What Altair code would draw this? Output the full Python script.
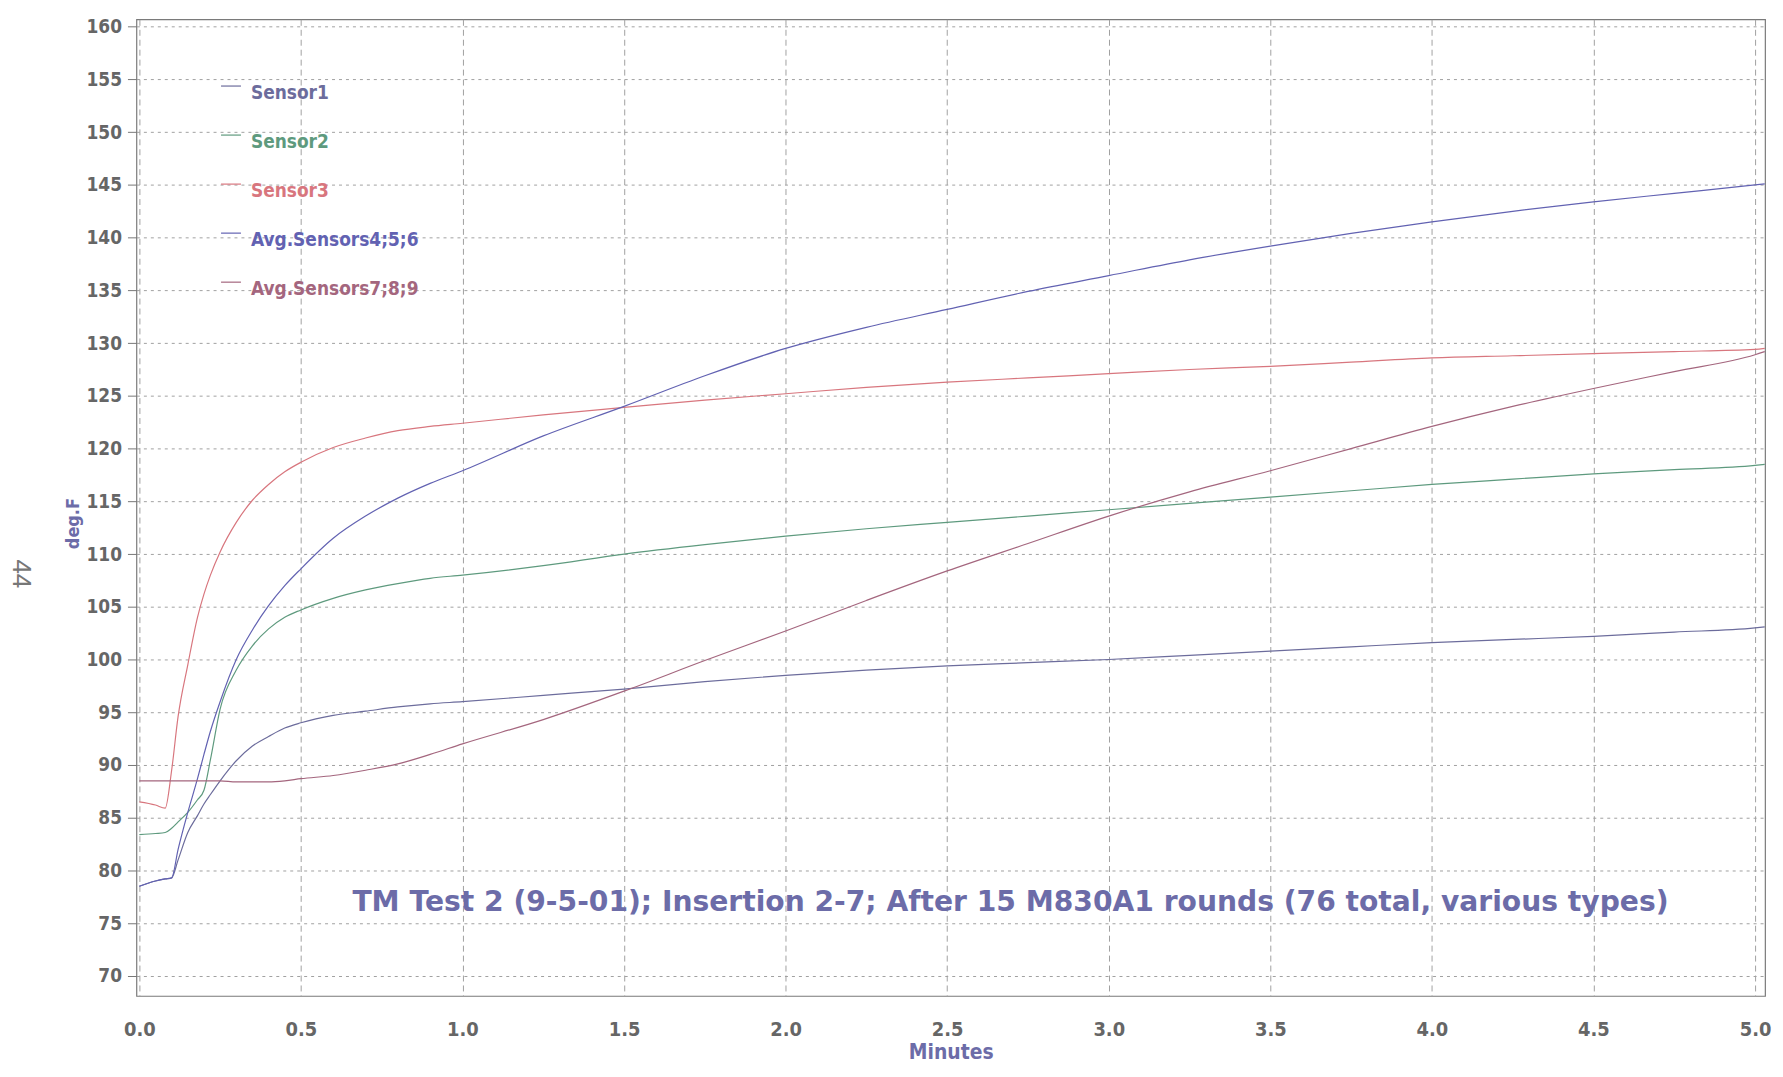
import altair as alt
import pandas as pd

minutes = [0, 0.05, 0.08, 0.1, 0.12, 0.15, 0.18, 0.2, 0.22, 0.25, 0.3, 0.35, 0.4, 0.45,
           0.5, 0.6, 0.7, 0.8, 0.9, 1.0, 1.25, 1.5, 1.75, 2.0, 2.25, 2.5, 2.75, 3.0,
           3.25, 3.5, 3.75, 4.0, 4.25, 4.5, 4.75, 5.0, 5.03]

sensor1 = [78.5, 79.0, 79.2, 79.3, 81.0, 83.6, 85.2, 86.3, 87.2, 88.5, 90.4, 91.8, 92.7, 93.5,
           94.0, 94.7, 95.1, 95.5, 95.8, 96.0, 96.6, 97.2, 97.9, 98.5, 99.0, 99.4, 99.7, 100.0,
           100.4, 100.8, 101.2, 101.6, 101.9, 102.2, 102.6, 103.0, 103.1]
sensor2 = [83.4, 83.5, 83.6, 84.0, 84.6, 85.5, 86.7, 87.6, 90.5, 95.3, 99.0, 101.3, 102.9, 104.0,
           104.7, 105.8, 106.6, 107.2, 107.7, 108.0, 108.9, 110.0, 110.9, 111.7, 112.4, 113.0, 113.6, 114.2,
           114.8, 115.4, 116.0, 116.6, 117.1, 117.6, 118.0, 118.4, 118.5]
sensor3 = [86.5, 86.2, 85.9, 89.5, 94.6, 99.5, 104.0, 106.2, 108.0, 110.2, 113.0, 115.1, 116.6, 117.8,
           118.7, 120.1, 121.0, 121.7, 122.1, 122.4, 123.2, 123.9, 124.6, 125.2, 125.8, 126.3, 126.7, 127.1,
           127.5, 127.8, 128.2, 128.6, 128.8, 129.0, 129.2, 129.4, 129.5]
avg456 = [78.5, 79.0, 79.2, 79.3, 82.0, 85.5, 88.7, 91.0, 93.2, 96.0, 100.0, 102.8, 105.1, 107.0,
          108.6, 111.5, 113.6, 115.3, 116.7, 117.9, 121.2, 124.0, 126.9, 129.5, 131.5, 133.2, 134.9, 136.4,
          137.9, 139.2, 140.4, 141.5, 142.5, 143.4, 144.2, 145.0, 145.1]
avg789 = [88.5, 88.5, 88.5, 88.5, 88.5, 88.5, 88.5, 88.5, 88.5, 88.5, 88.4, 88.4, 88.4, 88.5,
          88.7, 89.0, 89.5, 90.1, 91.0, 92.0, 94.3, 97.0, 99.9, 102.7, 105.6, 108.4, 111.0, 113.6,
          115.9, 117.9, 120.0, 122.1, 124.0, 125.7, 127.3, 128.9, 129.2]

series_names = ["Sensor1", "Sensor2", "Sensor3", "Avg.Sensors4;5;6", "Avg.Sensors7;8;9"]
series_colors = ["#6c6c9c", "#5e9a7e", "#d8767e", "#6262b2", "#a4667e"]
y_ticks = list(range(70, 161, 5))
x_ticks = [0.0, 0.5, 1.0, 1.5, 2.0, 2.5, 3.0, 3.5, 4.0, 4.5, 5.0]
note = "TM Test 2 (9-5-01); Insertion 2-7; After 15 M830A1 rounds (76 total, various types)"

rows = []
for name, vals in zip(series_names, [sensor1, sensor2, sensor3, avg456, avg789]):
    for m, v in zip(minutes, vals):
        rows.append({"Minutes": m, "degF": v, "series": name})
df = pd.DataFrame(rows)

NARROW = "Liberation Sans Narrow, DejaVu Sans Condensed, Arial Narrow, sans-serif"
PURPLE = "#6c6ca8"

color_scale = alt.Scale(domain=series_names, range=series_colors)

lines = alt.Chart(df).mark_line(strokeWidth=1.2, interpolate="monotone", clip=True).encode(
    x=alt.X("Minutes:Q", scale=alt.Scale(domain=[-0.009, 5.031], nice=False, zero=False),
            axis=alt.Axis(values=x_ticks, format=".1f", title="Minutes", grid=True,
                          gridDash=[6, 4], gridColor="#a0a0a0", ticks=False, domain=False,
                          labelFont=NARROW, labelFontSize=20, labelFontWeight="bold",
                          labelColor="#666666", labelPadding=24, labelFlush=False,
                          titleFont=NARROW, titleFontSize=21, titleFontWeight="bold",
                          titleColor=PURPLE, titlePadding=2)),
    y=alt.Y("degF:Q", scale=alt.Scale(domain=[68.1, 160.7], nice=False, zero=False),
            axis=alt.Axis(values=y_ticks, title="deg.F", grid=True, gridDash=[3, 4],
                          gridColor="#a0a0a0", tickColor="#777777", tickSize=9, domain=False,
                          labelFont=NARROW, labelFontSize=19, labelFontWeight="bold",
                          labelColor="#666666", labelPadding=6,
                          titleFont=NARROW, titleFontSize=18, titleFontWeight="bold",
                          titleColor=PURPLE, titlePadding=3, titleY=506)),
    color=alt.Color("series:N", scale=color_scale, legend=None),
    detail="series:N",
)

note_df = pd.DataFrame({"text": [note]})
annotation = alt.Chart(note_df).mark_text(
    font="DejaVu Sans, sans-serif", fontSize=28.3, fontWeight="bold",
    color=PURPLE, align="center", baseline="middle"
).encode(x=alt.value(878), y=alt.value(888), text="text:N")

page_df = pd.DataFrame({"text": ["44"]})
page_no = alt.Chart(page_df).mark_text(
    font="Liberation Sans, sans-serif", fontSize=26, color="#777777", angle=90,
    align="center", baseline="middle"
).encode(x=alt.value(-116), y=alt.value(557), text="text:N")

leg_df = pd.DataFrame({"series": series_names})
leg_y = alt.Y("series:N", sort=series_names,
              scale=alt.Scale(type="point", range=[74, 271], padding=0), axis=None)
leg_text = alt.Chart(leg_df).mark_text(
    font=NARROW, fontSize=19, fontWeight="bold", align="left", baseline="middle"
).encode(x=alt.value(115), y=leg_y, text="series:N",
         color=alt.Color("series:N", scale=color_scale, legend=None))
leg_rule = alt.Chart(leg_df).mark_rule(strokeWidth=1.2, yOffset=-7).encode(
    x=alt.value(85), x2=alt.value(105), y=leg_y,
    color=alt.Color("series:N", scale=color_scale, legend=None))

main = alt.layer(lines, annotation, page_no)
chart = alt.layer(main, leg_rule, leg_text).resolve_scale(y="independent").properties(
    width=1636, height=981,
    autosize=alt.AutoSizeParams(type="none"),
    padding={"left": 129, "top": 9, "right": 10, "bottom": 70},
    background="#ffffff",
).configure_view(stroke="#7a7a7a", strokeWidth=1.2)

chart.save("out.html", embed_options={"renderer": "svg", "actions": False})
